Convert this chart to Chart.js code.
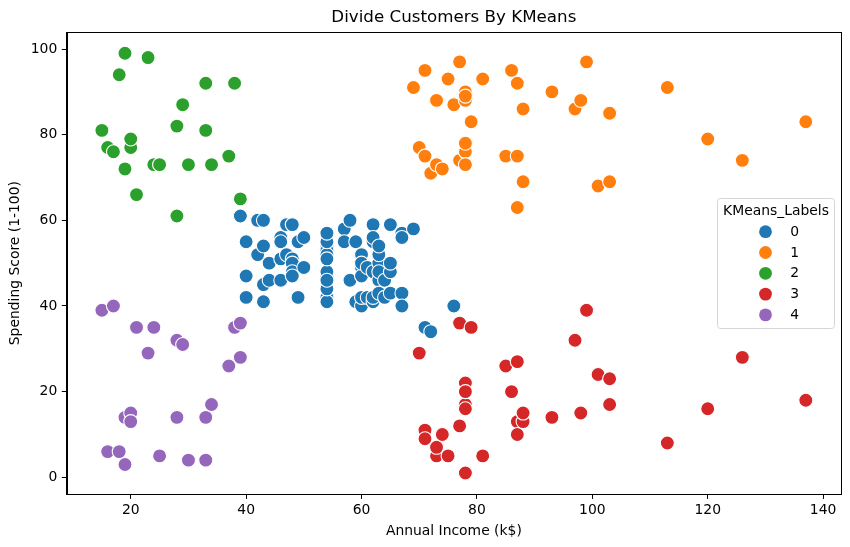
<!DOCTYPE html>
<html>
<head>
<meta charset="utf-8">
<script src="https://cdn.jsdelivr.net/npm/chart.js@4.4.1/dist/chart.umd.min.js"></script>
<style>
html,body{margin:0;padding:0;background:#fff;}
#wrap{width:850px;height:547px;}
</style>
</head>
<body>
<div id="wrap"><canvas id="c" width="850" height="547"></canvas></div>
<script>
const chartTitle = "Divide Customers By KMeans";
const xLabel = "Annual Income (k$)";
const yLabel = "Spending Score (1-100)";
const legendTitle = "KMeans_Labels";
const clusterLabels = ["0", "1", "2", "3", "4"];
const clusterColors = ["#1f77b4", "#ff7f0e", "#2ca02c", "#d62728", "#9467bd"];
const xTicks = [20, 40, 60, 80, 100, 120, 140];
const yTicks = [0, 20, 40, 60, 80, 100];

const income0 = [39,40,40,40,40,42,42,43,43,43,43,44,44,46,46,46,46,47,47,48,48,48,48,48,48,49,49,50,50,54,54,54,54,54,54,54,54,54,54,54,54,57,57,58,58,59,59,60,60,60,60,60,60,61,61,62,62,62,62,62,62,63,63,63,63,63,63,64,64,65,65,65,65,67,67,67,67,69,71,72,76];
const score0  = [61,55,47,42,42,52,60,54,60,45,41,50,46,51,46,56,55,52,59,51,59,50,48,59,47,55,42,49,56,47,54,53,48,52,42,51,55,41,44,57,46,58,55,60,46,55,41,49,40,42,52,47,50,42,49,41,48,59,55,56,42,50,46,43,48,52,54,42,46,48,50,43,59,43,57,56,40,58,35,34,40];

const income1 = [69,70,71,71,71,72,73,73,74,75,76,77,77,78,78,78,78,78,78,79,81,85,86,87,87,87,88,88,93,97,98,99,101,103,103,113,120,126,137];
const score1  = [91,77,95,75,75,71,88,73,72,93,87,97,74,90,88,76,89,78,73,83,93,75,95,63,75,92,86,69,90,86,88,97,68,85,69,91,79,74,83];

const income2 = [15,16,17,18,19,19,20,20,21,23,24,25,28,28,29,30,33,33,34,37,38,39];
const score2  = [81,77,76,94,72,99,77,79,66,98,73,73,82,61,87,73,92,81,73,75,92,65];

const income3 = [70,71,71,73,73,74,75,77,77,78,78,78,78,78,78,79,81,85,86,87,87,87,88,88,93,97,98,99,101,103,103,113,120,126,137];
const score3  = [29,11,9,5,7,10,5,12,36,22,17,20,16,1,1,35,5,26,20,27,13,10,13,15,14,32,15,39,24,17,23,8,16,28,18];

const income4 = [15,16,17,18,19,19,20,20,21,23,24,25,28,28,29,30,33,33,34,37,38,39,39];
const score4  = [39,6,40,6,3,14,15,13,35,29,35,5,14,32,31,4,4,14,17,26,35,36,28];

const incomes = [income0, income1, income2, income3, income4];
const scores = [score0, score1, score2, score3, score4];

const FONT = "'DejaVu Sans', sans-serif";
const TICK_PX = 13.9;
const TITLE_PX = 16.7;

const datasets = clusterLabels.map((lab, i) => ({
  label: lab,
  data: incomes[i].map((x, j) => ({x: x, y: scores[i][j]})),
  backgroundColor: clusterColors[i],
  borderColor: "#ffffff",
  borderWidth: 1.1,
  pointRadius: 7,
  pointHoverRadius: 7,
  order: 4 - i
}));

const framePlugin = {
  id: "frame",
  afterDraw(chart) {
    const ctx = chart.ctx;
    const a = chart.chartArea;
    ctx.save();
    // spines
    ctx.strokeStyle = "#000";
    ctx.lineWidth = 1;
    ctx.strokeRect(Math.round(a.left) + 0.5, Math.round(a.top) + 0.5, Math.round(a.right - a.left), Math.round(a.bottom - a.top));
    // title
    ctx.fillStyle = "#000";
    ctx.font = TITLE_PX + "px " + FONT;
    ctx.textAlign = "center";
    ctx.textBaseline = "middle";
    ctx.fillText(chartTitle, (a.left + a.right) / 2, 17.5);
    // legend
    const bx = 717, by = 198, bw = 117, bh = 130, r = 3;
    ctx.globalAlpha = 0.8;
    ctx.fillStyle = "#fff";
    ctx.beginPath();
    ctx.roundRect(bx + 0.5, by + 0.5, bw, bh, r);
    ctx.fill();
    ctx.globalAlpha = 1;
    ctx.strokeStyle = "#d6d6d6";
    ctx.lineWidth = 1;
    ctx.stroke();
    ctx.fillStyle = "#000";
    ctx.font = TICK_PX + "px " + FONT;
    ctx.textAlign = "center";
    ctx.fillText(legendTitle, bx + bw / 2 + 0.5, 211.5);
    chart.data.datasets.forEach((ds, i) => {
      const yy = 231.7 + i * 20.8;
      ctx.beginPath();
      ctx.arc(765.5, yy, 6.4, 0, Math.PI * 2);
      ctx.fillStyle = ds.backgroundColor;
      ctx.fill();
      ctx.fillStyle = "#000";
      ctx.textAlign = "left";
      ctx.fillText(ds.label, 790.3, yy + 0.5);
    });
    ctx.restore();
  }
};

new Chart(document.getElementById("c"), {
  type: "scatter",
  data: { datasets: datasets },
  options: {
    responsive: false,
    animation: false,
    devicePixelRatio: 1,
    layout: { padding: { top: 32.3, right: 9, left: 0, bottom: 0 } },
    plugins: {
      legend: { display: false },
      title: { display: false },
      tooltip: { enabled: false }
    },
    scales: {
      x: {
        type: "linear",
        min: 8.9,
        max: 143.1,
        afterBuildTicks(scale) { scale.ticks = xTicks.map(v => ({ value: v })); },
        afterFit(scale) { scale.height = 53; },
        grid: { display: true, drawOnChartArea: false, drawTicks: true, tickLength: 4.9, tickColor: "#000", tickWidth: 1 },
        border: { display: true, color: "#000", width: 1 },
        ticks: { color: "#000", font: { family: FONT, size: TICK_PX }, padding: 3.5, maxRotation: 0 },
        title: { display: true, text: xLabel, color: "#000", font: { family: FONT, size: TICK_PX }, padding: { top: 0, bottom: 7.5 } }
      },
      y: {
        type: "linear",
        min: -3.9,
        max: 103.9,
        afterBuildTicks(scale) { scale.ticks = yTicks.map(v => ({ value: v })); },
        afterFit(scale) { scale.width = 66.7; },
        grid: { display: true, drawOnChartArea: false, drawTicks: true, tickLength: 4.9, tickColor: "#000", tickWidth: 1 },
        border: { display: true, color: "#000", width: 1 },
        ticks: { color: "#000", font: { family: FONT, size: TICK_PX }, padding: 4.5 },
        title: { display: true, text: yLabel, color: "#000", font: { family: FONT, size: TICK_PX }, padding: { top: 7, bottom: 0 } }
      }
    }
  },
  plugins: [framePlugin]
});
</script>
</body>
</html>
